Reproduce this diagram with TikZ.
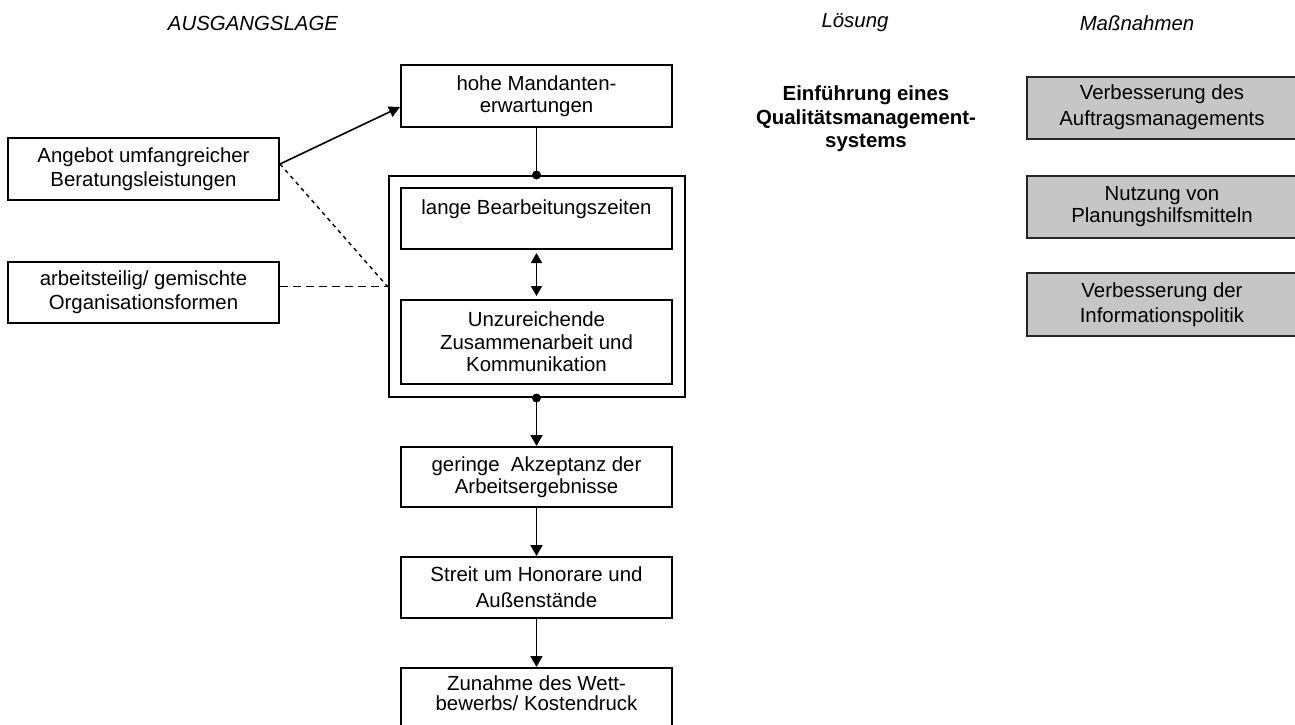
\documentclass[tikz,border=0pt]{standalone}
\usepackage{fontspec}
\setmainfont{Liberation Sans}
\usetikzlibrary{arrows.meta}
\definecolor{mgray}{RGB}{198,198,198}
\begin{document}
\begin{tikzpicture}[x=1pt,y=-1pt,
  box/.style={draw, line width=2pt, inner sep=0pt, minimum width=271pt,
    align=center, font=\fontsize{20.4}{23}\selectfont},
  gbox/.style={box, fill=mgray, draw=black!85, minimum width=270pt},
  head/.style={inner sep=0pt, font=\fontsize{20.4}{23}\selectfont\itshape},
  arr/.style={line width=1.9pt, -{Triangle[width=12pt,length=11pt]}},
  thinarr/.style={line width=1.6pt, -{Triangle[width=11pt,length=11pt]}},
  dblarr/.style={line width=1.9pt, {Triangle[width=11pt,length=10pt]}-{Triangle[width=11pt,length=10pt]}},
  fine dash/.style={line width=1.4pt, dash pattern=on 4pt off 4pt},
  coarse dash/.style={line width=1.8pt, dash pattern=on 8pt off 5pt}
]
\useasboundingbox (0,0) rectangle (1295,725);
\clip (0,0) rectangle (1295,725);

% headers
\node[head] (h1) at (253,23) {AUSGANGSLAGE};
\node[head] (h2) at (855,23) {Lösung};
\node[head] (h3) at (1137,23) {Maßnahmen};

% left column
\node[box, minimum height=62pt, font=\fontsize{20.4}{24.5}\selectfont] (angebot) at (143.5,169) {Angebot umfangreicher\\Beratungsleistungen};
\node[box, minimum height=61pt, font=\fontsize{20.4}{24}\selectfont] (arbeit) at (143.5,292.5) {arbeitsteilig/ gemischte\\Organisationsformen};

% central column
\node[box, minimum height=62pt, font=\fontsize{20.4}{21.5}\selectfont] (hohe) at (536.5,96) {hohe Mandanten-\\erwartungen};
\node[box, minimum width=296pt, minimum height=221pt] (outer) at (536.5,286.5) {};
\node[box, minimum height=61pt] (lange) at (536.5,218.5) {lange Bearbeitungszeiten\\\mbox{}};
\node[box, minimum height=84pt, font=\fontsize{20.4}{22.5}\selectfont] (unzu) at (536.5,342) {Unzureichende\\Zusammenarbeit und\\Kommunikation};
\node[box, minimum height=60pt, font=\fontsize{20.4}{21.5}\selectfont] (geringe) at (536.5,477) {geringe\ \ Akzeptanz der\\Arbeitsergebnisse};
\node[box, minimum height=61pt, font=\fontsize{20.4}{26}\selectfont] (streit) at (536.5,587.5) {Streit um Honorare und\\Außenstände};
\node[box, minimum height=70pt, font=\fontsize{20.4}{20}\selectfont] (zunahme) at (536.5,703) {Zunahme des Wett-\\bewerbs/ Kostendruck\\\mbox{}};

% solution
\node[inner sep=0pt, align=center, font=\fontsize{20.4}{23.5}\selectfont\bfseries] (loesung) at (866,119) {Einführung eines\\Qualitätsmanagement-\\systems};

% measures
\node[gbox, minimum height=62pt, font=\fontsize{20.4}{26}\selectfont] (m1) at (1162,107.5) {Verbesserung des\\Auftragsmanagements};
\node[gbox, minimum height=62pt, font=\fontsize{20.4}{22}\selectfont] (m2) at (1162,207) {Nutzung von\\Planungshilfsmitteln};
\node[gbox, minimum height=63pt, font=\fontsize{20.4}{25}\selectfont] (m3) at (1162,304.5) {Verbesserung der\\Informationspolitik};

% connectors
\coordinate (aout) at ([yshift=5pt]angebot.east);
\draw[thinarr] (aout) -- ([yshift=-11pt]hohe.west);
\draw[fine dash] (aout) -- (outer.west);
\draw[coarse dash] (arbeit.east |- outer.west) -- (outer.west);
\draw[line width=1.9pt] (hohe.south) -- (outer.north);
\fill (outer.north) circle (4.5pt);
\draw[dblarr, shorten <=3pt, shorten >=3pt] (lange.south) -- (unzu.north);
\draw[arr] (outer.south) -- (geringe.north);
\fill (outer.south) circle (4.5pt);
\draw[arr] (geringe.south) -- (streit.north);
\draw[arr] (streit.south) -- (zunahme.north);
\end{tikzpicture}
\end{document}
